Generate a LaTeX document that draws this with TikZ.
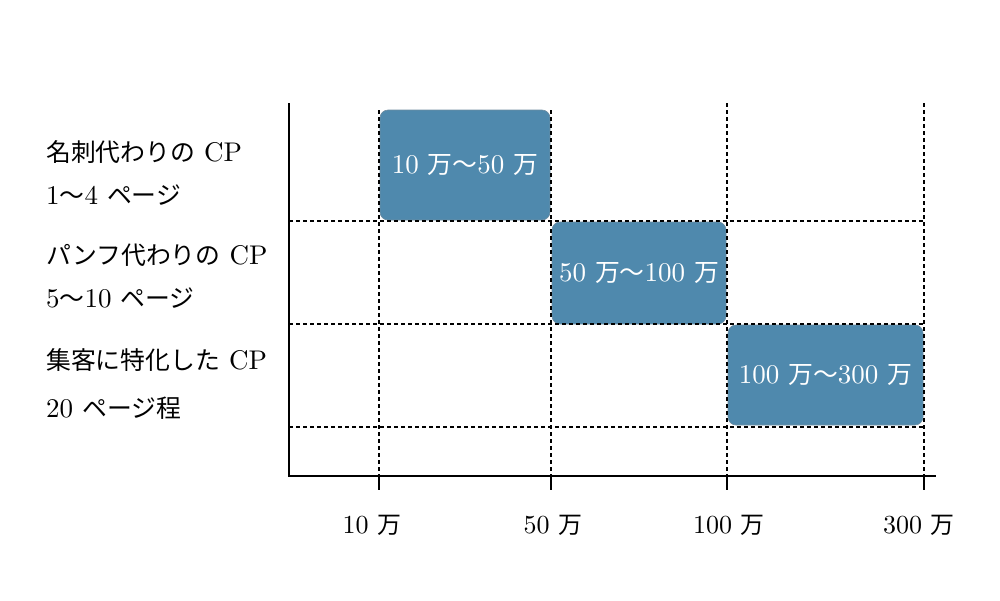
\documentclass[tikz,border=0pt]{standalone}
\usepackage{fontspec}
\setmainfont{lmroman10-regular}[Extension=.otf]
\newfontfamily\jp{Noto Sans CJK JP}[Scale=0.92]
\definecolor{boxblue}{RGB}{79,137,173}
\definecolor{boxedge}{RGB}{110,140,160}
\begin{document}
\begin{tikzpicture}[x=1pt,y=-1pt,
  lbl/.style={anchor=base west,inner sep=0pt,font=\fontsize{27}{27}\selectfont},
  xl/.style={anchor=center,inner sep=0pt,font=\fontsize{26}{26}\selectfont},
  bar/.style={fill=boxblue,draw=boxedge,line width=0.6pt,rounded corners=8pt,inner sep=0pt},
  bartext/.style={anchor=center,inner sep=0pt,text=white,font=\fontsize{27}{27}\selectfont},
  grid/.style={line width=1.3pt,dash pattern=on 4pt off 3pt},
  axis/.style={line width=1.5pt}]
\useasboundingbox (0,0) rectangle (1000,600);
% bars
\node[bar,minimum width=170pt,minimum height=110pt] (b1) at (465,165) {};
\node[bar,minimum width=174pt,minimum height=102pt] (b2) at (639,273) {};
\node[bar,minimum width=195pt,minimum height=100pt] (b3) at (825.5,375) {};
% grid coordinates
\coordinate (o) at (289,476);
\coordinate (ytop) at (289,103);
\coordinate (xend) at (936,476);
\foreach \n/\x/\t in {a/379/110,b/551/110,c/727/103,d/924/103}{
  \coordinate (v\n t) at (\x,\t);
  \coordinate (v\n b) at (\x,476);
  \coordinate (v\n k) at (\x,490);
}
\foreach \n/\y in {1/221,2/324,3/427}{
  \coordinate (h\n l) at (289,\y);
  \coordinate (h\n r) at (924,\y);
}
% dashed grid
\foreach \n in {a,b,c,d}{
  \draw[grid] (v\n t) -- (v\n b);
  \draw[axis] (v\n b) -- (v\n k);
}
\foreach \n in {1,2,3}{
  \draw[grid] (h\n l) -- (h\n r);
}
% axes
\draw[axis] (ytop) -- (o) -- (xend);
% bar texts
\node[bartext] (t1) at (b1.center) {10 {\jp 万〜}50 {\jp 万}};
\node[bartext] (t2) at (b2.center) {50 {\jp 万〜}100 {\jp 万}};
\node[bartext] (t3) at (b3.center) {100 {\jp 万〜}300 {\jp 万}};
% row labels
\node[lbl] (r1a) at (46,161) {{\jp 名刺代わりの} CP};
\node[lbl] (r1b) at (46,204) {1{\jp 〜}4 {\jp ページ}};
\node[lbl] (r2a) at (46,264) {{\jp パンフ代わりの} CP};
\node[lbl] (r2b) at (46,307) {5{\jp 〜}10 {\jp ページ}};
\node[lbl] (r3a) at (46,369) {{\jp 集客に特化した} CP};
\node[lbl] (r3b) at (46,417) {20 {\jp ページ程}};
% x labels
\node[xl] (x1) at (372,525) {10 {\jp 万}};
\node[xl] (x2) at (553,525) {50 {\jp 万}};
\node[xl] (x3) at (729,525) {100 {\jp 万}};
\node[xl] (x4) at (919,525) {300 {\jp 万}};
\end{tikzpicture}
\end{document}
